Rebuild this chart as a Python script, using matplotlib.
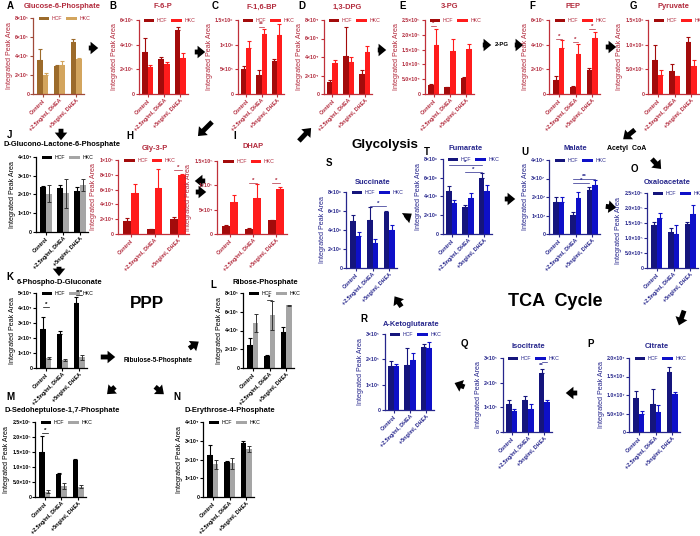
import matplotlib
matplotlib.use('Agg')
import matplotlib.pyplot as plt
from matplotlib.patches import FancyArrowPatch
import numpy as np

plt.rcParams['font.family'] = ['Liberation Sans', 'DejaVu Sans']
plt.rcParams['font.weight'] = 'bold'

groups = ["Control", "+2.5ng/ml, DHEA", "+5ng/ml, DHEA"]
series = ["HCF", "HKC"]

# ---------------- data (mean, upper error) ----------------
A_hcf = [3.55e5, 2.9e5, 5.5e5];   A_hcf_err = [1.2e5, 0.2e5, 0.3e5]
A_hkc = [2.0e5, 3.05e5, 3.7e5];   A_hkc_err = [0.2e5, 0.4e5, 0.1e5]
A_ticks = [0, 2e5, 4e5, 6e5, 8e5]; A_labels = ["0", "2×10⁵", "4×10⁵", "6×10⁵", "8×10⁵"]

B_hcf = [3.4e5, 2.8e5, 5.2e5];    B_hcf_err = [1.15e5, 0.2e5, 0.25e5]
B_hkc = [2.2e5, 2.45e5, 2.95e5];  B_hkc_err = [0.15e5, 0.15e5, 0.35e5]
B_ticks = [0, 2e5, 4e5, 6e5]; B_labels = ["0", "2×10⁵", "4×10⁵", "6×10⁵"]

C_hcf = [5.0e5, 3.9e5, 6.7e5];    C_hcf_err = [0.6e5, 0.9e5, 0.4e5]
C_hkc = [9.3e5, 12.1e5, 12.0e5];  C_hkc_err = [1.5e5, 1.1e5, 2.2e5]
C_ticks = [0, 5e5, 1e6, 1.5e6]; C_labels = ["0", "5×10⁵", "1×10⁶", "1.5×10⁶"]

D_hcf = [1.3e4, 4.1e4, 2.2e4];    D_hcf_err = [0.2e4, 3.1e4, 0.4e4]
D_hkc = [3.3e4, 3.5e4, 4.5e4];    D_hkc_err = [0.4e4, 0.5e4, 0.7e4]
D_ticks = [0, 2e4, 4e4, 6e4, 8e4]; D_labels = ["0", "2×10⁴", "4×10⁴", "6×10⁴", "8×10⁴"]

E_hcf = [3.1e4, 2.2e4, 5.4e4];    E_hcf_err = [0.3e4, 0.2e4, 0.3e4]
E_hkc = [16.4e4, 14.6e4, 15.2e4]; E_hkc_err = [5.6e4, 3.9e4, 1.7e4]
E_ticks = [0, 5e4, 1e5, 1.5e5, 2e5, 2.5e5]
E_labels = ["0", "5.0×10⁴", "1.0×10⁵", "1.5×10⁵", "2.0×10⁵", "2.5×10⁵"]

F_hcf = [1.16e5, 0.57e5, 1.96e5]; F_hcf_err = [0.27e5, 0.1e5, 0.14e5]
F_hkc = [3.71e5, 3.23e5, 4.52e5]; F_hkc_err = [0.68e5, 0.83e5, 0.48e5]
F_ticks = [0, 2e5, 4e5, 6e5]; F_labels = ["0", "2×10⁵", "4×10⁵", "6×10⁵"]

G_hcf = [6.9e5, 4.7e5, 10.5e5];   G_hcf_err = [3.1e5, 1.4e5, 1.1e5]
G_hkc = [3.9e5, 3.6e5, 5.6e5];    G_hkc_err = [1.0e5, 0.05e5, 1.3e5]
G_ticks = [0, 5e5, 1e6, 1.5e6]; G_labels = ["0", "5.0×10⁵", "1.0×10⁶", "1.5×10⁶"]

H_hcf = [1.75e4, 0.65e4, 2.0e4];  H_hcf_err = [0.45e4, 0.05e4, 0.3e4]
H_hkc = [5.5e4, 6.2e4, 8.0e4];    H_hkc_err = [1.3e4, 2.6e4, 0.15e4]
H_ticks = [0, 2e4, 4e4, 6e4, 8e4, 1e5]
H_labels = ["0", "2×10⁴", "4×10⁴", "6×10⁴", "8×10⁴", "1×10⁵"]

I_hcf = [1.7e4, 1.1e4, 2.8e4];    I_hcf_err = [0.2e4, 0.1e4, 0.1e4]
I_hkc = [6.6e4, 7.5e4, 9.3e4];    I_hkc_err = [1.4e4, 2.8e4, 0.4e4]
I_ticks = [0, 5e4, 1e5, 1.5e5]; I_labels = ["0", "5×10⁴", "1×10⁵", "1.5×10⁵"]

J_hcf = [2.42e4, 2.37e4, 2.2e4];  J_hcf_err = [0.05e4, 0.15e4, 0.18e4]
J_hkc = [2.05e4, 2.07e4, 2.52e4]; J_hkc_err = [0.45e4, 0.78e4, 0.33e4]
J_ticks = [0, 1e4, 2e4, 3e4, 4e4]; J_labels = ["0", "1×10⁴", "2×10⁴", "3×10⁴", "4×10⁴"]

K_hcf = [2.62e4, 2.25e4, 4.35e4]; K_hcf_err = [0.78e4, 0.2e4, 0.4e4]
K_hkc = [0.68e4, 0.55e4, 0.72e4]; K_hkc_err = [0.07e4, 0.07e4, 0.17e4]
K_ticks = [0, 1e4, 2e4, 3e4, 4e4, 5e4]
K_labels = ["0", "1×10⁴", "2×10⁴", "3×10⁴", "4×10⁴", "5×10⁴"]

L_hcf = [2.45e5, 1.3e5, 3.8e5];   L_hcf_err = [0.75e5, 0.1e5, 0.55e5]
L_hkc = [4.8e5, 5.65e5, 6.7e5];   L_hkc_err = [0.95e5, 1.55e5, 0.05e5]
L_ticks = [0, 2e5, 4e5, 6e5, 8e5]; L_labels = ["0", "2×10⁵", "4×10⁵", "6×10⁵", "8×10⁵"]

M_hcf = [1.5e5, 0.78e5, 1.22e5];  M_hcf_err = [0.55e5, 0.02e5, 0.05e5]
M_hkc = [0.18e5, 0.38e5, 0.35e5]; M_hkc_err = [0.05e5, 0.1e5, 0.05e5]
M_ticks = [0, 5e4, 1e5, 1.5e5, 2e5, 2.5e5]
M_labels = ["0", "5.0×10⁴", "1.0×10⁵", "1.5×10⁵", "2.0×10⁵", "2.5×10⁵"]

N_hcf = [2.25e4, 1.88e4, 2.88e4]; N_hcf_err = [0.55e4, 0.04e4, 0.1e4]
N_hkc = [1.75e4, 1.8e4, 2.55e4];  N_hkc_err = [0.25e4, 0.28e4, 0.15e4]
N_ticks = [0, 1e4, 2e4, 3e4, 4e4]; N_labels = ["0", "1×10⁴", "2×10⁴", "3×10⁴", "4×10⁴"]

O_hcf = [1.45e5, 1.2e5, 1.47e5];  O_hcf_err = [0.1e5, 0.12e5, 0.05e5]
O_hkc = [1.68e5, 1.15e5, 1.8e5];  O_hkc_err = [0.17e5, 0.27e5, 0.3e5]
O_ticks = [0, 5e4, 1e5, 1.5e5, 2e5, 2.5e5]
O_labels = ["0", "5.0×10⁴", "1.0×10⁵", "1.5×10⁵", "2.0×10⁵", "2.5×10⁵"]

P_hcf = [0.92e7, 0.75e7, 1.62e7]; P_hcf_err = [0.18e7, 0.42e7, 0.13e7]
P_hkc = [0.48e7, 0.55e7, 1.02e7]; P_hkc_err = [0.09e7, 0.17e7, 0.05e7]
P_ticks = [0, 5e6, 1e7, 1.5e7, 2e7]
P_labels = ["0", "5.0×10⁶", "1.0×10⁷", "1.5×10⁷", "2.0×10⁷"]

Q_hcf = [1.15e5, 1.3e5, 2.4e5];   Q_hcf_err = [0.15e5, 0.15e5, 0.15e5]
Q_hkc = [0.85e5, 0.92e5, 1.22e5]; Q_hkc_err = [0.1e5, 0.2e5, 0.08e5]
Q_ticks = [0, 1e5, 2e5, 3e5]; Q_labels = ["0", "1×10⁵", "2×10⁵", "3×10⁵"]

R_hcf = [1.73e5, 1.78e5, 2.47e5]; R_hcf_err = [0.22e5, 0.67e5, 0.15e5]
R_hkc = [1.72e5, 1.98e5, 2.45e5]; R_hkc_err = [0.1e5, 0.27e5, 0.25e5]
R_ticks = [0, 1e5, 2e5, 3e5]; R_labels = ["0", "1×10⁵", "2×10⁵", "3×10⁵"]

S_hcf = [4.95e6, 5.05e6, 5.9e6];  S_hcf_err = [0.65e6, 1.35e6, 0.15e6]
S_hkc = [3.37e6, 2.6e6, 4.0e6];   S_hkc_err = [0.45e6, 0.5e6, 0.5e6]
S_ticks = [0, 2e6, 4e6, 6e6, 8e6]; S_labels = ["0", "2×10⁶", "4×10⁶", "6×10⁶", "8×10⁶"]

T_hcf = [4.55e6, 2.9e6, 6.0e6];   T_hcf_err = [0.55e6, 0.15e6, 0.5e6]
T_hkc = [3.3e6, 3.8e6, 4.6e6];    T_hkc_err = [0.3e6, 0.55e6, 0.6e6]
T_ticks = [0, 2e6, 4e6, 6e6, 8e6]; T_labels = ["0", "2×10⁶", "4×10⁶", "6×10⁶", "8×10⁶"]

U_hcf = [1.75e7, 1.05e7, 2.4e7];  U_hcf_err = [0.25e7, 0.15e7, 0.15e7]
U_hkc = [1.75e7, 1.95e7, 2.65e7]; U_hkc_err = [0.25e7, 0.3e7, 0.25e7]
U_ticks = [0, 1e7, 2e7, 3e7, 4e7]; U_labels = ["0", "1×10⁷", "2×10⁷", "3×10⁷", "4×10⁷"]

# ---------------- styles ----------------
TH = {
    'brown': dict(hcf='#9c6b2b', hkc='#d3a55e', text='#b22a3c', axis='#a04a3a', sym=False),
    'red': dict(hcf='#a30b0b', hkc='#ff1c1c', text='#b22a3c', axis='#c0303a', sym=False),
    'blue': dict(hcf='#15157c', hkc='#0e10c8', text='#26268c', axis='#26268c', sym=False),
    'gray': dict(hcf='#000000', hkc='#a5a5a5', text='#000000', axis='#000000', sym=True),
}

W, H = 700, 536
fig = plt.figure(figsize=(7.0, 5.36), dpi=100)
ov = fig.add_axes([0, 0, 1, 1])
ov.set_xlim(0, W); ov.set_ylim(H, 0); ov.axis('off')


def make_axes(bl, br, top, bot):
    ppu = (br - bl) / 2.68
    left = bl - 0.21 * ppu
    right = br + 0.11 * ppu
    return fig.add_axes([left / W, 1 - bot / H, (right - left) / W, (bot - top) / H])


def panel(letter, title, hcf, hcf_err, hkc, hkc_err, ticks, labels, theme,
          geom, title_y, letter_xy, sig=(), title_x=None):
    th = TH[theme]
    ax = make_axes(*geom)
    x = np.arange(3)
    w = 0.34
    z = np.zeros(3)
    ax.bar(x - w / 2, hcf, w, color=th['hcf'], zorder=2, label=series[0])
    ax.bar(x + w / 2, hkc, w, color=th['hkc'], zorder=2, label=series[1])
    ax.errorbar(x - w / 2, hcf, yerr=[z, hcf_err], fmt='none', ecolor=th['hcf'],
                elinewidth=0.8, capsize=1.2, capthick=0.8, zorder=1)
    if th['sym']:
        ax.errorbar(x + w / 2, hkc, yerr=[hkc_err, hkc_err], fmt='none', ecolor='#333333',
                    elinewidth=0.7, capsize=1.2, capthick=0.7, zorder=3)
    else:
        ax.errorbar(x + w / 2, hkc, yerr=[z, hkc_err], fmt='none', ecolor=th['hkc'],
                    elinewidth=0.8, capsize=1.2, capthick=0.8, zorder=1)
    ax.set_xlim(-0.55, 2.45)
    ax.set_ylim(0, ticks[-1])
    ax.set_yticks(ticks)
    ax.set_yticklabels(labels)
    ax.set_xticks(x)
    ax.set_xticklabels(groups, rotation=45, ha='right', rotation_mode='anchor')
    for s in ('top', 'right'):
        ax.spines[s].set_visible(False)
    for s in ('left', 'bottom'):
        ax.spines[s].set_color(th['axis'])
        ax.spines[s].set_linewidth(0.9)
    ax.tick_params(length=2, width=0.8, labelsize=3.7, pad=1, colors=th['axis'],
                   labelcolor=th['text'])
    ax.tick_params(axis='x', labelsize=3.9)
    ax.set_ylabel("Integrated Peak Area", fontsize=5.1, color=th['text'], labelpad=1.5)
    leg = ax.legend(loc='upper left', bbox_to_anchor=(0.06, 1.05), ncol=2, frameon=False,
                    fontsize=3.8, handlelength=2.0, handleheight=0.6, columnspacing=0.7,
                    handletextpad=0.5, borderaxespad=0)
    for t in leg.get_texts():
        t.set_color(th['text'])
        t.set_fontweight('normal')
    for (x1, x2, yv, txt) in sig:
        if x1 != x2:
            ax.plot([x1, x2], [yv, yv], color=th['text'], lw=0.5, clip_on=False)
        ax.text((x1 + x2) / 2, yv, txt, ha='center', va='bottom', fontsize=4.5,
                color=th['text'], clip_on=False)
    cx = (geom[0] + geom[1]) / 2 if title_x is None else title_x
    ov.text(cx, title_y, title, ha='center', va='center', fontsize=5.4, color=th['text'])
    ov.text(letter_xy[0], letter_xy[1], letter, ha='center', va='center', fontsize=7,
            color='black')
    return ax


g = 0.17
panel("A", "Glucose-6-Phosphate", A_hcf, A_hcf_err, A_hkc, A_hkc_err, A_ticks, A_labels,
      'brown', (37, 82, 18, 94), 7, (10, 6), title_x=62)
panel("B", "F-6-P", B_hcf, B_hcf_err, B_hkc, B_hkc_err, B_ticks, B_labels,
      'red', (142, 186, 20, 94), 7, (113, 6), title_x=163)
panel("C", "F-1,6-BP", C_hcf, C_hcf_err, C_hkc, C_hkc_err, C_ticks, C_labels,
      'red', (241, 282, 20, 94), 7, (215, 6), sig=[(1 - g, 1 + g, 1.36e6, "**")], title_x=262)
panel("D", "1,3-DPG", D_hcf, D_hcf_err, D_hkc, D_hkc_err, D_ticks, D_labels,
      'red', (327, 370, 20, 94), 7, (302, 6), title_x=347)
panel("E", "3-PG", E_hcf, E_hcf_err, E_hkc, E_hkc_err, E_ticks, E_labels,
      'red', (428, 472, 20, 94), 7, (403, 6), sig=[(-g, g, 2.3e5, "*")], title_x=450)
panel("F", "PEP", F_hcf, F_hcf_err, F_hkc, F_hkc_err, F_ticks, F_labels,
      'red', (553, 598, 20, 94), 7, (532, 6),
      sig=[(-g, g, 4.5e5, "*"), (1 - g, 1 + g, 4.2e5, "*"), (2 - g, 2 + g, 5.3e5, "*")],
      title_x=573)
panel("G", "Pyruvate", G_hcf, G_hcf_err, G_hkc, G_hkc_err, G_ticks, G_labels,
      'red', (652, 697, 20, 94), 7, (633, 6), title_x=673)
panel("J", "D-Glucono-Lactone-6-Phosphate", J_hcf, J_hcf_err, J_hkc, J_hkc_err, J_ticks,
      J_labels, 'gray', (40, 86, 157, 232), 145, (10, 135), title_x=62)
panel("H", "Gly-3-P", H_hcf, H_hcf_err, H_hkc, H_hkc_err, H_ticks, H_labels,
      'red', (123, 186, 160, 234), 148, (130, 136), sig=[(2 - g, 2 + g, 8.6e4, "*")])
panel("I", "DHAP", I_hcf, I_hcf_err, I_hkc, I_hkc_err, I_ticks, I_labels,
      'red', (222, 284, 161, 234), 147, (235, 136),
      sig=[(1 - g, 1 + g, 1.05e5, "*"), (2 - g, 2 + g, 1.05e5, "*")])
panel("S", "Succinate", S_hcf, S_hcf_err, S_hkc, S_hkc_err, S_ticks, S_labels,
      'blue', (350, 395, 192, 268), 182, (329, 163), sig=[(1 - g, 2 - g, 6.5e6, "*")],
      title_x=373)
panel("T", "Fumarate", T_hcf, T_hcf_err, T_hkc, T_hkc_err, T_ticks, T_labels,
      'blue', (446, 490, 159, 234), 148, (427, 152),
      sig=[(-g, 2 - g, 7.4e6, "*"), (1 - g, 2 - g, 6.6e6, "*")], title_x=466)
panel("U", "Malate", U_hcf, U_hcf_err, U_hkc, U_hkc_err, U_ticks, U_labels,
      'blue', (553, 598, 160, 234), 148, (525, 152),
      sig=[(1 - g, 2 + g, 3.0e7, "**"), (1 - g, 2 - g, 2.75e7, "*")], title_x=575)
panel("O", "Oxaloacetate", O_hcf, O_hcf_err, O_hkc, O_hkc_err, O_ticks, O_labels,
      'blue', (651, 696, 193, 268), 183, (634, 169), title_x=667)
panel("K", "6-Phospho-D-Gluconate", K_hcf, K_hcf_err, K_hkc, K_hkc_err, K_ticks, K_labels,
      'gray', (40, 85, 293, 368), 283, (10, 277),
      sig=[(-g, g, 4.1e4, "*"), (2 - g, 2 + g, 4.85e4, "***")], title_x=60)
panel("L", "Ribose-Phosphate", L_hcf, L_hcf_err, L_hkc, L_hkc_err, L_ticks, L_labels,
      'gray', (247, 292, 293, 368), 283, (213, 285), sig=[(1 - g, 1 + g, 7.3e5, "*")],
      title_x=265)
panel("M", "D-Sedoheptulose-1,7-Phosphate", M_hcf, M_hcf_err, M_hkc, M_hkc_err, M_ticks,
      M_labels, 'gray', (39, 84, 422, 497), 411, (10, 397), sig=[(-g, g, 2.15e5, "*")],
      title_x=62)
panel("N", "D-Erythrose-4-Phosphate", N_hcf, N_hcf_err, N_hkc, N_hkc_err, N_ticks, N_labels,
      'gray', (207, 252, 422, 497), 411, (177, 397), title_x=230)
panel("R", "A-Ketoglutarate", R_hcf, R_hcf_err, R_hkc, R_hkc_err, R_ticks, R_labels,
      'blue', (388, 432, 334, 410), 324, (364, 319), title_x=411)
panel("Q", "Isocitrate", Q_hcf, Q_hcf_err, Q_hkc, Q_hkc_err, Q_ticks, Q_labels,
      'blue', (506, 550, 358, 432), 347, (464, 344),
      sig=[(2 - g, 2 - g, 2.6e5, "**"), (2 - g, 2 + g, 2.85e5, "**")], title_x=528)
panel("P", "Citrate", P_hcf, P_hcf_err, P_hkc, P_hkc_err, P_ticks, P_labels,
      'blue', (633, 678, 358, 432), 347, (591, 344), title_x=657)

# big labels
ov.text(385, 145, "Glycolysis", ha='center', va='center', fontsize=9.6, color='black')
ov.text(555, 301, "TCA  Cycle", ha='center', va='center', fontsize=13, color='black')
ov.text(147, 303, "PPP", ha='center', va='center', fontsize=12.3, color='black')
ov.text(158, 360, "Ribulose-5-Phosphate", ha='center', va='center', fontsize=4.7,
        color='black')
ov.text(502, 45, "2-PG", ha='center', va='center', fontsize=4.3, color='black')
ov.text(627, 148, "Acetyl  CoA", ha='center', va='center', fontsize=5, color='black')


def arrow(x0, y0, x1, y1):
    ov.add_patch(FancyArrowPatch((x0, y0), (x1, y1),
                                 arrowstyle='simple,head_length=0.55,head_width=0.9,tail_width=0.35',
                                 mutation_scale=10, color='black', lw=0))


arrow(86, 48, 101, 48)       # A -> B
arrow(192, 52, 208, 52)      # B -> C
arrow(375, 50, 389, 50)      # D -> E
arrow(480, 45, 494, 45)      # E -> 2-PG
arrow(512, 45, 526, 45)      # 2-PG -> F
arrow(603, 47, 619, 47)      # F -> G
arrow(214, 120, 196, 138)    # C -> H
arrow(61, 126, 61, 143)      # A -> J
arrow(208, 181, 192, 181)    # I -> H
arrow(193, 192, 209, 192)    # H -> I
arrow(297, 143, 313, 126)    # I -> D
arrow(59, 264, 59, 279)      # J -> K
arrow(98, 357, 118, 357)     # K -> Ribulose
arrow(187, 350, 201, 340)    # Ribulose -> L
arrow(117, 385, 105, 396)    # Ribulose -> M
arrow(153, 385, 166, 396)    # Ribulose -> N
arrow(637, 128, 621, 141)    # Pyruvate -> Acetyl CoA
arrow(650, 157, 663, 171)    # Acetyl CoA -> O
arrow(685, 308, 678, 328)    # O -> P
arrow(580, 393, 563, 393)    # P -> Q
arrow(467, 388, 452, 382)    # Q -> R
arrow(403, 309, 393, 294)    # R -> S
arrow(403, 220, 414, 212)    # S -> T
arrow(502, 199, 518, 199)    # T -> U
arrow(603, 206, 619, 208)    # U -> O

fig.savefig('out.png', dpi=100)
